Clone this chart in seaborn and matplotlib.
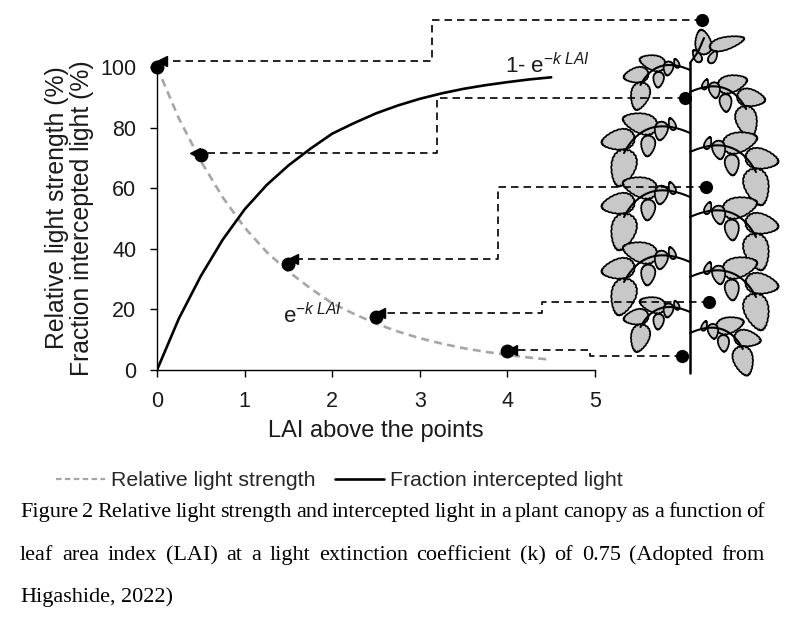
import numpy as np
import pandas as pd
import matplotlib
matplotlib.use("Agg")
import matplotlib.pyplot as plt
import seaborn as sns
from matplotlib.lines import Line2D
from matplotlib.patches import Polygon

# ---------------- data ----------------
lai = [0, 0.25, 0.5, 0.75, 1.0, 1.25, 1.5, 1.75, 2.0, 2.25, 2.5, 2.75, 3.0,
       3.25, 3.5, 3.75, 4.0, 4.25, 4.5]
relative_light = [100, 83, 69, 57, 47, 39, 32.5, 27, 22, 18.5, 15.3, 12.7, 10.5,
                  8.7, 7.2, 6.0, 5.0, 4.1, 3.4]
intercepted_light = [0, 17, 31, 43, 53, 61, 67.5, 73, 78, 81.5, 84.7, 87.3, 89.5,
                     91.3, 92.8, 94.0, 95.0, 95.9, 96.6]
point_lai = [0, 0.5, 1.5, 2.5, 4.0]
point_light = [100, 71, 35, 17.5, 6.3]
x_ticks = [0, 1, 2, 3, 4, 5]
y_ticks = [0, 20, 40, 60, 80, 100]
series_names = ["Relative light strength", "Fraction intercepted light"]

# dashed guide paths (plant dot -> point on the curve), data coordinates
guide_paths = [
    [(6.22, 115.5), (3.14, 115.5), (3.14, 102.0), (0.06, 102.0)],
    [(6.03, 89.8), (3.20, 89.8), (3.20, 71.6), (0.43, 71.6)],
    [(6.27, 60.4), (3.89, 60.4), (3.89, 36.6), (1.55, 36.6)],
    [(6.30, 22.4), (4.40, 22.4), (4.40, 18.8), (2.55, 18.8)],
    [(5.99, 4.6), (4.94, 4.6), (4.94, 6.6), (4.05, 6.6)],
]

caption_lines = [
    "Figure 2 Relative light strength and intercepted light in a plant canopy as a function of",
    "leaf area index (LAI) at a light extinction coefficient (k) of 0.75 (Adopted from",
    "Higashide, 2022)",
]

# ---------------- style ----------------
sns.set_theme(style="white")
plt.rcParams["font.family"] = ["Liberation Sans", "DejaVu Sans"]
plt.rcParams["mathtext.fontset"] = "custom"
plt.rcParams["mathtext.rm"] = "Liberation Sans"
plt.rcParams["mathtext.it"] = "Liberation Sans:italic"

TXT = "#1a1a1a"
W, H = 800, 627
fig = plt.figure(figsize=(W / 100, H / 100), dpi=100, facecolor="white")

# background axes in pixel coordinates for the plant illustration
bg = fig.add_axes([0, 0, 1, 1], zorder=0)
bg.set_xlim(0, W)
bg.set_ylim(H, 0)
bg.axis("off")

ax = fig.add_axes([157 / W, (H - 370) / H, 438 / W, 303 / H], zorder=1)
ax.patch.set_visible(False)

# ---------------- plant drawing ----------------
def leaflet(cx, cy, L, Wd, ang):
    t = np.linspace(0, 2 * np.pi, 220)
    ser = 1 + 0.06 * np.abs(np.sin(12 * t))
    x = (L / 2) * np.cos(t) * ser
    y = (Wd / 2) * np.sin(t) * (1 - 0.3 * np.cos(t)) * ser
    a = np.deg2rad(ang)
    xr = cx + x * np.cos(a) - y * np.sin(a)
    yr = cy + x * np.sin(a) + y * np.cos(a)
    bg.add_patch(Polygon(np.column_stack([xr, yr]), closed=True,
                         fc="#c8c8c8", ec="black", lw=1.2, zorder=2))

template = [
    (-50, -10, 34, 19, 195),
    (-72, 7, 32, 19, 170),
    (-29, -2, 18, 12, 100),
    (-42, 13, 20, 13, 95),
    (-67, 35, 36, 23, 105),
    (-18, -9, 12, 6, 250),
]

STEM_X = 690

def cluster(y0, side, sc):
    for dx, dy, L, Wd, ang in template:
        cx = STEM_X + (-dx if side > 0 else dx) * sc
        cy = y0 + dy * sc
        a = (180 - ang) if side > 0 else ang
        leaflet(cx, cy, L * sc, Wd * sc, a)
    tt = np.linspace(0, 1, 40)
    p0 = np.array([0.0, 0.0])
    p1 = np.array([-45.0, -20.0])
    p2 = np.array([-66.0, 20.0])
    pts = ((1 - tt) ** 2)[:, None] * p0 + (2 * (1 - tt) * tt)[:, None] * p1 + (tt ** 2)[:, None] * p2
    xs = STEM_X + (-pts[:, 0] if side > 0 else pts[:, 0]) * sc
    ys = y0 + pts[:, 1] * sc
    bg.plot(xs, ys, color="black", lw=1.5, zorder=3)

for y0, sc in [(70, 0.75), (133, 1.0), (197, 1.0), (262, 1.0), (312, 0.75)]:
    cluster(y0, -1, sc)
for y0, sc in [(92, 0.85), (152, 1.0), (217, 1.0), (277, 1.0), (333, 0.8)]:
    cluster(y0, 1, sc)

# top of the plant
bg.plot([STEM_X, 698, 704], [63, 52, 38], color="black", lw=1.5, zorder=3)
leaflet(703, 42, 24, 15, -100)
leaflet(727, 43, 34, 12, -15)
leaflet(697, 56, 13, 7, -120)
leaflet(713, 57, 13, 7, -60)
bg.plot([STEM_X, STEM_X], [63, 373], color="black", lw=1.8, zorder=3)

# ---------------- chart ----------------
df = pd.DataFrame({
    "LAI": lai + lai,
    "value": relative_light + intercepted_light,
    "series": [series_names[0]] * len(lai) + [series_names[1]] * len(lai),
})
sns.lineplot(data=df[df.series == series_names[0]], x="LAI", y="value",
             color="#a6a6a6", lw=1.9, dashes=False, ax=ax, legend=False,
             linestyle=(0, (3, 2)))
sns.lineplot(data=df[df.series == series_names[1]], x="LAI", y="value",
             color="black", lw=1.9, ax=ax, legend=False)

# guide paths
for path in guide_paths:
    xs = [p[0] for p in path]
    ys = [p[1] for p in path]
    ax.plot(xs, ys, color="black", lw=1.2, linestyle=(0, (4.5, 3)),
            clip_on=False, zorder=4)
    ax.plot([xs[-1]], [ys[-1]], marker="<", color="black", markersize=7,
            clip_on=False, zorder=4)

start_x = [p[0][0] for p in guide_paths]
start_y = [p[0][1] for p in guide_paths]
sns.scatterplot(x=start_x, y=start_y, color="black", s=90, ax=ax,
                clip_on=False, zorder=5, edgecolor="black", linewidth=0)
sns.scatterplot(x=point_lai, y=point_light, color="black", s=100, ax=ax,
                clip_on=False, zorder=5, edgecolor="black", linewidth=0)

ax.set_xlim(0, 5)
ax.set_ylim(0, 100)
ax.set_xticks(x_ticks)
ax.set_yticks(y_ticks)
ax.set_xticklabels([str(v) for v in x_ticks])
ax.set_yticklabels([str(v) for v in y_ticks])
ax.tick_params(bottom=True, left=True, direction="out", length=5, width=1,
               color="black", labelsize=15.5, labelcolor=TXT, pad=10)
sns.despine(ax=ax)
for s in ["left", "bottom"]:
    ax.spines[s].set_color("black")
    ax.spines[s].set_linewidth(1.0)

ax.set_xlabel("LAI above the points", fontsize=17, color=TXT)
ax.xaxis.set_label_coords(0.5, (370 - 431) / 303)
ax.xaxis.label.set_va("center")
ax.set_ylabel("")
fig.text(57 / W, 1 - 208 / H, "Relative light strength (%)", rotation=90,
         fontsize=17.8, color=TXT, ha="center", va="center")
fig.text(82 / W, 1 - 218 / H, "Fraction intercepted light (%)", rotation=90,
         fontsize=17.8, color=TXT, ha="center", va="center")

ax.text(3.97, 98, r"1- e$^{-k\ LAI}$", fontsize=16, color=TXT, va="baseline")
ax.text(1.44, 15.5, r"e$^{-k\ LAI}$", fontsize=16, color=TXT, va="baseline")

# legend
handles = [
    Line2D([], [], color="#a6a6a6", lw=1.6, linestyle=(0, (2.5, 1.5))),
    Line2D([], [], color="black", lw=1.9),
]
fig.legend(handles=handles, labels=series_names, loc="center left",
           bbox_to_anchor=(56 / W, 1 - 481 / H), ncol=2, frameon=False,
           fontsize=15.3, handlelength=2.3, handletextpad=0.3,
           columnspacing=0.9, borderpad=0, borderaxespad=0)

# caption with justification
fig.canvas.draw()
renderer = fig.canvas.get_renderer()
CAP_FS = 16
baselines = [517, 560, 602]
x0, x1 = 20, 765
for i, line in enumerate(caption_lines):
    words = line.split(" ")
    texts = [fig.text(0, 1 - baselines[i] / H, w, fontsize=CAP_FS,
                      family="Liberation Serif", va="baseline", color="black")
             for w in words]
    widths = [t.get_window_extent(renderer).width for t in texts]
    if i < 2 and len(words) > 1:
        gap = (x1 - x0 - sum(widths)) / (len(words) - 1)
    else:
        sp = fig.text(0, 0, "a a", fontsize=CAP_FS, family="Liberation Serif")
        sp2 = fig.text(0, 0, "aa", fontsize=CAP_FS, family="Liberation Serif")
        gap = sp.get_window_extent(renderer).width - sp2.get_window_extent(renderer).width
        sp.remove(); sp2.remove()
    x = x0
    for t, w in zip(texts, widths):
        t.set_x(x / W)
        x += w + gap

fig.savefig("out.png", dpi=100, facecolor="white")
